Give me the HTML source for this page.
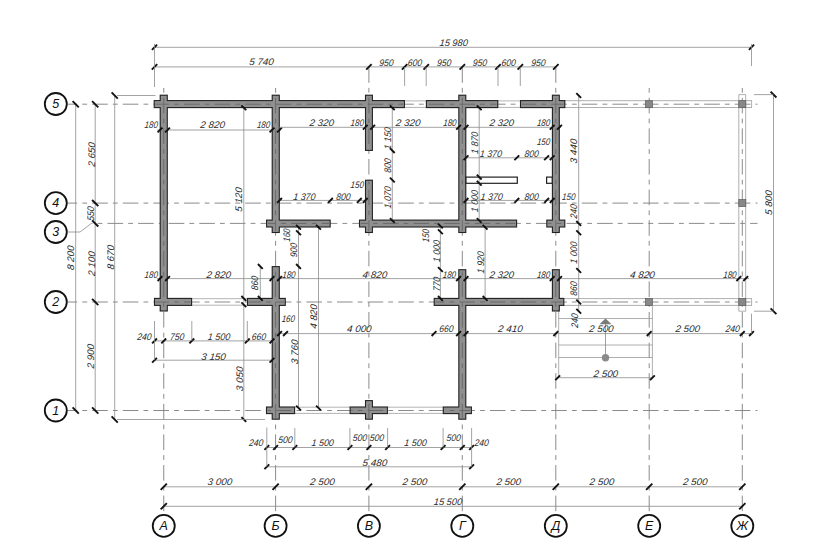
<!DOCTYPE html>
<html><head><meta charset="utf-8"><title>Floor plan</title>
<style>html,body{margin:0;padding:0;background:#fff;width:825px;height:550px;overflow:hidden;}
svg{display:block;font-family:"Liberation Sans", sans-serif;}</style></head>
<body>
<svg width="825" height="550" viewBox="0 0 825 550">
<rect width="825" height="550" fill="#fff"/>
<g>
<g><line x1="67.50" y1="104.20" x2="757.50" y2="104.20" stroke="#7e7e7e" stroke-width="0.9" stroke-dasharray="15.6,5.1,4.8,5.1" stroke-dashoffset="5.90"/><line x1="67.50" y1="203.10" x2="757.50" y2="203.10" stroke="#7e7e7e" stroke-width="0.9" stroke-dasharray="15.6,5.1,4.8,5.1" stroke-dashoffset="5.90"/><line x1="67.50" y1="302.00" x2="757.50" y2="302.00" stroke="#7e7e7e" stroke-width="0.9" stroke-dasharray="15.6,5.1,4.8,5.1" stroke-dashoffset="5.90"/><line x1="67.50" y1="410.50" x2="757.50" y2="410.50" stroke="#7e7e7e" stroke-width="0.9" stroke-dasharray="15.6,5.1,4.8,5.1" stroke-dashoffset="5.90"/><line x1="91.30" y1="223.40" x2="757.50" y2="223.40" stroke="#7e7e7e" stroke-width="0.9" stroke-dasharray="15.6,5.1,4.8,5.1" stroke-dashoffset="14.40"/><line x1="163.75" y1="88.00" x2="163.75" y2="515.00" stroke="#7e7e7e" stroke-width="0.9" stroke-dasharray="15.6,5.1,4.8,5.1" stroke-dashoffset="20.80"/><line x1="275.60" y1="88.00" x2="275.60" y2="515.00" stroke="#7e7e7e" stroke-width="0.9" stroke-dasharray="15.6,5.1,4.8,5.1" stroke-dashoffset="20.80"/><line x1="649.20" y1="88.00" x2="649.20" y2="515.00" stroke="#7e7e7e" stroke-width="0.9" stroke-dasharray="15.6,5.1,4.8,5.1" stroke-dashoffset="20.80"/><line x1="742.30" y1="88.00" x2="742.30" y2="515.00" stroke="#7e7e7e" stroke-width="0.9" stroke-dasharray="15.6,5.1,4.8,5.1" stroke-dashoffset="20.80"/><line x1="368.90" y1="67.00" x2="368.90" y2="515.00" stroke="#7e7e7e" stroke-width="0.9" stroke-dasharray="15.6,5.1,4.8,5.1" stroke-dashoffset="30.40"/><line x1="462.30" y1="67.00" x2="462.30" y2="515.00" stroke="#7e7e7e" stroke-width="0.9" stroke-dasharray="15.6,5.1,4.8,5.1" stroke-dashoffset="30.40"/><line x1="555.80" y1="67.00" x2="555.80" y2="515.00" stroke="#7e7e7e" stroke-width="0.9" stroke-dasharray="15.6,5.1,4.8,5.1" stroke-dashoffset="30.40"/></g>
<g><line x1="404.6" y1="100.9" x2="426.2" y2="100.9" stroke="#a0a0a0" stroke-width="0.8"/><line x1="404.6" y1="107.4" x2="426.2" y2="107.4" stroke="#a0a0a0" stroke-width="0.8"/><line x1="498.0" y1="100.9" x2="520.3" y2="100.9" stroke="#a0a0a0" stroke-width="0.8"/><line x1="498.0" y1="107.4" x2="520.3" y2="107.4" stroke="#a0a0a0" stroke-width="0.8"/><line x1="191.8" y1="298.7" x2="247.3" y2="298.7" stroke="#a0a0a0" stroke-width="0.8"/><line x1="191.8" y1="305.2" x2="247.3" y2="305.2" stroke="#a0a0a0" stroke-width="0.8"/><line x1="294.8" y1="407.2" x2="349.9" y2="407.2" stroke="#a0a0a0" stroke-width="0.8"/><line x1="294.8" y1="413.4" x2="349.9" y2="413.4" stroke="#a0a0a0" stroke-width="0.8"/><line x1="387.6" y1="407.2" x2="443.1" y2="407.2" stroke="#a0a0a0" stroke-width="0.8"/><line x1="387.6" y1="413.4" x2="443.1" y2="413.4" stroke="#a0a0a0" stroke-width="0.8"/><line x1="565" y1="100.7" x2="752" y2="100.7" stroke="#9a9a9a" stroke-width="0.8"/><line x1="565" y1="107.5" x2="752" y2="107.5" stroke="#9a9a9a" stroke-width="0.8"/><line x1="564" y1="298.6" x2="752" y2="298.6" stroke="#9a9a9a" stroke-width="0.8"/><line x1="564" y1="305.4" x2="752" y2="305.4" stroke="#9a9a9a" stroke-width="0.8"/><line x1="751.6" y1="100.7" x2="751.6" y2="107.5" stroke="#9a9a9a" stroke-width="0.8"/><line x1="751.6" y1="298.6" x2="751.6" y2="305.4" stroke="#9a9a9a" stroke-width="0.8"/><line x1="738.8" y1="94.6" x2="738.8" y2="311.2" stroke="#9a9a9a" stroke-width="0.8"/><line x1="745.7" y1="94.6" x2="745.7" y2="311.2" stroke="#9a9a9a" stroke-width="0.8"/><line x1="738.8" y1="94.6" x2="745.7" y2="94.6" stroke="#9a9a9a" stroke-width="0.8"/><line x1="738.8" y1="311.2" x2="745.7" y2="311.2" stroke="#9a9a9a" stroke-width="0.8"/><rect x="645.5" y="100.7" width="7" height="7" fill="#888" stroke="#5a5a5a" stroke-width="0.7"/><rect x="738.8" y="100.7" width="7" height="7" fill="#888" stroke="#5a5a5a" stroke-width="0.7"/><rect x="738.8" y="199.6" width="7" height="7" fill="#888" stroke="#5a5a5a" stroke-width="0.7"/><rect x="645.5" y="298.6" width="7" height="7" fill="#888" stroke="#5a5a5a" stroke-width="0.7"/><rect x="738.8" y="298.6" width="7" height="7" fill="#888" stroke="#5a5a5a" stroke-width="0.7"/><line x1="558.7" y1="318.5" x2="652.4" y2="318.5" stroke="#9a9a9a" stroke-width="0.8"/><line x1="558.7" y1="345.0" x2="652.4" y2="345.0" stroke="#9a9a9a" stroke-width="0.8"/><line x1="558.7" y1="357.5" x2="652.4" y2="357.5" stroke="#9a9a9a" stroke-width="0.8"/><line x1="558.7" y1="305.6" x2="558.7" y2="377.7" stroke="#9a9a9a" stroke-width="0.8"/><line x1="652.4" y1="305.6" x2="652.4" y2="377.7" stroke="#9a9a9a" stroke-width="0.8"/><polygon points="605.5,318.6 599.5,324.3 611.5,324.3" fill="#7a7a7a"/><line x1="605.5" y1="324" x2="605.5" y2="355" stroke="#888" stroke-width="0.8"/><circle cx="605.5" cy="357.7" r="3.7" fill="#8a8a8a"/></g>
<g><rect x="154.75" y="101.15" width="249.10" height="5.90" fill="none" stroke="#222" stroke-width="2.2"/><rect x="426.95" y="101.15" width="70.30" height="5.90" fill="none" stroke="#222" stroke-width="2.2"/><rect x="521.05" y="101.15" width="43.20" height="5.90" fill="none" stroke="#222" stroke-width="2.2"/><rect x="267.15" y="220.65" width="62.50" height="5.80" fill="none" stroke="#222" stroke-width="2.2"/><rect x="360.05" y="220.65" width="156.00" height="5.80" fill="none" stroke="#222" stroke-width="2.2"/><rect x="547.35" y="220.65" width="16.90" height="5.80" fill="none" stroke="#222" stroke-width="2.2"/><rect x="155.05" y="298.95" width="36.00" height="5.90" fill="none" stroke="#222" stroke-width="2.2"/><rect x="248.05" y="298.95" width="36.70" height="5.90" fill="none" stroke="#222" stroke-width="2.2"/><rect x="434.75" y="298.95" width="128.50" height="5.90" fill="none" stroke="#222" stroke-width="2.2"/><rect x="267.05" y="407.55" width="27.00" height="5.50" fill="none" stroke="#222" stroke-width="2.2"/><rect x="350.65" y="407.55" width="36.20" height="5.50" fill="none" stroke="#222" stroke-width="2.2"/><rect x="443.85" y="407.55" width="27.00" height="5.50" fill="none" stroke="#222" stroke-width="2.2"/><rect x="160.75" y="95.75" width="6.00" height="214.70" fill="none" stroke="#222" stroke-width="2.2"/><rect x="272.75" y="95.75" width="6.00" height="136.20" fill="none" stroke="#222" stroke-width="2.2"/><rect x="272.75" y="267.15" width="6.00" height="151.50" fill="none" stroke="#222" stroke-width="2.2"/><rect x="366.05" y="95.75" width="5.80" height="54.10" fill="none" stroke="#222" stroke-width="2.2"/><rect x="366.05" y="180.75" width="5.80" height="51.20" fill="none" stroke="#222" stroke-width="2.2"/><rect x="366.05" y="401.15" width="5.80" height="17.50" fill="none" stroke="#222" stroke-width="2.2"/><rect x="459.35" y="95.75" width="5.90" height="136.20" fill="none" stroke="#222" stroke-width="2.2"/><rect x="459.35" y="270.25" width="5.90" height="148.40" fill="none" stroke="#222" stroke-width="2.2"/><rect x="552.95" y="95.75" width="5.80" height="136.20" fill="none" stroke="#222" stroke-width="2.2"/><rect x="552.95" y="270.25" width="5.80" height="40.20" fill="none" stroke="#222" stroke-width="2.2"/><rect x="154.75" y="101.15" width="249.10" height="5.90" fill="#909090"/><rect x="426.95" y="101.15" width="70.30" height="5.90" fill="#909090"/><rect x="521.05" y="101.15" width="43.20" height="5.90" fill="#909090"/><rect x="267.15" y="220.65" width="62.50" height="5.80" fill="#909090"/><rect x="360.05" y="220.65" width="156.00" height="5.80" fill="#909090"/><rect x="547.35" y="220.65" width="16.90" height="5.80" fill="#909090"/><rect x="155.05" y="298.95" width="36.00" height="5.90" fill="#909090"/><rect x="248.05" y="298.95" width="36.70" height="5.90" fill="#909090"/><rect x="434.75" y="298.95" width="128.50" height="5.90" fill="#909090"/><rect x="267.05" y="407.55" width="27.00" height="5.50" fill="#909090"/><rect x="350.65" y="407.55" width="36.20" height="5.50" fill="#909090"/><rect x="443.85" y="407.55" width="27.00" height="5.50" fill="#909090"/><rect x="160.75" y="95.75" width="6.00" height="214.70" fill="#909090"/><rect x="272.75" y="95.75" width="6.00" height="136.20" fill="#909090"/><rect x="272.75" y="267.15" width="6.00" height="151.50" fill="#909090"/><rect x="366.05" y="95.75" width="5.80" height="54.10" fill="#909090"/><rect x="366.05" y="180.75" width="5.80" height="51.20" fill="#909090"/><rect x="366.05" y="401.15" width="5.80" height="17.50" fill="#909090"/><rect x="459.35" y="95.75" width="5.90" height="136.20" fill="#909090"/><rect x="459.35" y="270.25" width="5.90" height="148.40" fill="#909090"/><rect x="552.95" y="95.75" width="5.80" height="136.20" fill="#909090"/><rect x="552.95" y="270.25" width="5.80" height="40.20" fill="#909090"/><rect x="466.0" y="177.1" width="51.30" height="6.20" fill="#fff" stroke="#222" stroke-width="1.2"/><rect x="546.6" y="177.1" width="5.60" height="6.20" fill="#fff" stroke="#222" stroke-width="1.2"/></g>
<g><line x1="155.50" y1="104.20" x2="403.10" y2="104.20" stroke="#6a6a6a" stroke-width="1" stroke-dasharray="15.6,5.1,4.8,5.1" stroke-dashoffset="2.10"/><line x1="427.70" y1="104.20" x2="496.50" y2="104.20" stroke="#6a6a6a" stroke-width="1" stroke-dasharray="15.6,5.1,4.8,5.1" stroke-dashoffset="29.50"/><line x1="521.80" y1="104.20" x2="563.50" y2="104.20" stroke="#6a6a6a" stroke-width="1" stroke-dasharray="15.6,5.1,4.8,5.1" stroke-dashoffset="1.20"/><line x1="267.90" y1="223.40" x2="328.90" y2="223.40" stroke="#6a6a6a" stroke-width="1" stroke-dasharray="15.6,5.1,4.8,5.1" stroke-dashoffset="7.40"/><line x1="360.80" y1="223.40" x2="515.30" y2="223.40" stroke="#6a6a6a" stroke-width="1" stroke-dasharray="15.6,5.1,4.8,5.1" stroke-dashoffset="8.50"/><line x1="548.10" y1="223.40" x2="563.50" y2="223.40" stroke="#6a6a6a" stroke-width="1" stroke-dasharray="15.6,5.1,4.8,5.1" stroke-dashoffset="12.20"/><line x1="155.80" y1="302.00" x2="190.30" y2="302.00" stroke="#6a6a6a" stroke-width="1" stroke-dasharray="15.6,5.1,4.8,5.1" stroke-dashoffset="2.40"/><line x1="248.80" y1="302.00" x2="284.00" y2="302.00" stroke="#6a6a6a" stroke-width="1" stroke-dasharray="15.6,5.1,4.8,5.1" stroke-dashoffset="3.60"/><line x1="435.50" y1="302.00" x2="562.50" y2="302.00" stroke="#6a6a6a" stroke-width="1" stroke-dasharray="15.6,5.1,4.8,5.1" stroke-dashoffset="6.70"/><line x1="267.80" y1="410.50" x2="293.30" y2="410.50" stroke="#6a6a6a" stroke-width="1" stroke-dasharray="15.6,5.1,4.8,5.1" stroke-dashoffset="22.60"/><line x1="351.40" y1="410.50" x2="386.10" y2="410.50" stroke="#6a6a6a" stroke-width="1" stroke-dasharray="15.6,5.1,4.8,5.1" stroke-dashoffset="14.40"/><line x1="444.60" y1="410.50" x2="470.10" y2="410.50" stroke="#6a6a6a" stroke-width="1" stroke-dasharray="15.6,5.1,4.8,5.1" stroke-dashoffset="15.80"/><line x1="163.75" y1="96.50" x2="163.75" y2="309.70" stroke="#6a6a6a" stroke-width="1" stroke-dasharray="15.6,5.1,4.8,5.1" stroke-dashoffset="29.30"/><line x1="275.60" y1="96.50" x2="275.60" y2="231.20" stroke="#6a6a6a" stroke-width="1" stroke-dasharray="15.6,5.1,4.8,5.1" stroke-dashoffset="29.30"/><line x1="275.60" y1="267.90" x2="275.60" y2="417.90" stroke="#6a6a6a" stroke-width="1" stroke-dasharray="15.6,5.1,4.8,5.1" stroke-dashoffset="17.10"/><line x1="368.90" y1="96.50" x2="368.90" y2="149.10" stroke="#6a6a6a" stroke-width="1" stroke-dasharray="15.6,5.1,4.8,5.1" stroke-dashoffset="29.30"/><line x1="368.90" y1="181.50" x2="368.90" y2="231.20" stroke="#6a6a6a" stroke-width="1" stroke-dasharray="15.6,5.1,4.8,5.1" stroke-dashoffset="22.50"/><line x1="368.90" y1="401.90" x2="368.90" y2="417.90" stroke="#6a6a6a" stroke-width="1" stroke-dasharray="15.6,5.1,4.8,5.1" stroke-dashoffset="28.70"/><line x1="462.30" y1="96.50" x2="462.30" y2="231.20" stroke="#6a6a6a" stroke-width="1" stroke-dasharray="15.6,5.1,4.8,5.1" stroke-dashoffset="29.30"/><line x1="462.30" y1="271.00" x2="462.30" y2="417.90" stroke="#6a6a6a" stroke-width="1" stroke-dasharray="15.6,5.1,4.8,5.1" stroke-dashoffset="20.20"/><line x1="555.80" y1="96.50" x2="555.80" y2="231.20" stroke="#6a6a6a" stroke-width="1" stroke-dasharray="15.6,5.1,4.8,5.1" stroke-dashoffset="29.30"/><line x1="555.80" y1="271.00" x2="555.80" y2="309.70" stroke="#6a6a6a" stroke-width="1" stroke-dasharray="15.6,5.1,4.8,5.1" stroke-dashoffset="20.20"/></g>
<g stroke-linecap="butt"><line x1="154.50" y1="47.30" x2="751.50" y2="47.30" stroke="#8c8c8c" stroke-width="0.8" /><line x1="151.90" y1="49.90" x2="157.10" y2="44.70" stroke="#111" stroke-width="1.9" /><line x1="748.90" y1="49.90" x2="754.10" y2="44.70" stroke="#111" stroke-width="1.9" /><line x1="154.50" y1="66.90" x2="555.80" y2="66.90" stroke="#8c8c8c" stroke-width="0.8" /><line x1="151.80" y1="69.60" x2="157.20" y2="64.20" stroke="#111" stroke-width="1.9" /><line x1="366.20" y1="69.60" x2="371.60" y2="64.20" stroke="#111" stroke-width="1.9" /><line x1="401.90" y1="69.60" x2="407.30" y2="64.20" stroke="#111" stroke-width="1.9" /><line x1="423.50" y1="69.60" x2="428.90" y2="64.20" stroke="#111" stroke-width="1.9" /><line x1="459.60" y1="69.60" x2="465.00" y2="64.20" stroke="#111" stroke-width="1.9" /><line x1="495.30" y1="69.60" x2="500.70" y2="64.20" stroke="#111" stroke-width="1.9" /><line x1="517.60" y1="69.60" x2="523.00" y2="64.20" stroke="#111" stroke-width="1.9" /><line x1="553.10" y1="69.60" x2="558.50" y2="64.20" stroke="#111" stroke-width="1.9" /><line x1="157.00" y1="130.00" x2="281.00" y2="130.00" stroke="#8c8c8c" stroke-width="0.8" /><line x1="157.60" y1="132.40" x2="162.40" y2="127.60" stroke="#111" stroke-width="1.9" /><line x1="165.10" y1="132.40" x2="169.90" y2="127.60" stroke="#111" stroke-width="1.9" /><line x1="269.60" y1="132.40" x2="274.40" y2="127.60" stroke="#111" stroke-width="1.9" /><line x1="277.10" y1="132.40" x2="281.90" y2="127.60" stroke="#111" stroke-width="1.9" /><line x1="279.50" y1="127.30" x2="561.00" y2="127.30" stroke="#8c8c8c" stroke-width="0.8" /><line x1="362.90" y1="129.70" x2="367.70" y2="124.90" stroke="#111" stroke-width="1.9" /><line x1="370.20" y1="129.70" x2="375.00" y2="124.90" stroke="#111" stroke-width="1.9" /><line x1="456.20" y1="129.70" x2="461.00" y2="124.90" stroke="#111" stroke-width="1.9" /><line x1="463.60" y1="129.70" x2="468.40" y2="124.90" stroke="#111" stroke-width="1.9" /><line x1="549.80" y1="129.70" x2="554.60" y2="124.90" stroke="#111" stroke-width="1.9" /><line x1="557.10" y1="129.70" x2="561.90" y2="124.90" stroke="#111" stroke-width="1.9" /><line x1="466.00" y1="157.80" x2="553.00" y2="157.80" stroke="#8c8c8c" stroke-width="0.8" /><line x1="463.60" y1="160.20" x2="468.40" y2="155.40" stroke="#111" stroke-width="1.9" /><line x1="514.40" y1="160.20" x2="519.20" y2="155.40" stroke="#111" stroke-width="1.9" /><line x1="544.20" y1="160.20" x2="549.00" y2="155.40" stroke="#111" stroke-width="1.9" /><line x1="549.80" y1="160.20" x2="554.60" y2="155.40" stroke="#111" stroke-width="1.9" /><line x1="279.50" y1="200.40" x2="367.00" y2="200.40" stroke="#8c8c8c" stroke-width="0.8" /><line x1="277.10" y1="202.80" x2="281.90" y2="198.00" stroke="#111" stroke-width="1.9" /><line x1="328.00" y1="202.80" x2="332.80" y2="198.00" stroke="#111" stroke-width="1.9" /><line x1="356.90" y1="202.80" x2="361.70" y2="198.00" stroke="#111" stroke-width="1.9" /><line x1="362.90" y1="202.80" x2="367.70" y2="198.00" stroke="#111" stroke-width="1.9" /><line x1="466.00" y1="200.40" x2="553.00" y2="200.40" stroke="#8c8c8c" stroke-width="0.8" /><line x1="463.60" y1="202.80" x2="468.40" y2="198.00" stroke="#111" stroke-width="1.9" /><line x1="514.40" y1="202.80" x2="519.20" y2="198.00" stroke="#111" stroke-width="1.9" /><line x1="544.20" y1="202.80" x2="549.00" y2="198.00" stroke="#111" stroke-width="1.9" /><line x1="549.80" y1="202.80" x2="554.60" y2="198.00" stroke="#111" stroke-width="1.9" /><line x1="157.00" y1="278.60" x2="749.00" y2="278.60" stroke="#8c8c8c" stroke-width="0.8" /><line x1="157.60" y1="281.00" x2="162.40" y2="276.20" stroke="#111" stroke-width="1.9" /><line x1="165.10" y1="281.00" x2="169.90" y2="276.20" stroke="#111" stroke-width="1.9" /><line x1="269.60" y1="281.00" x2="274.40" y2="276.20" stroke="#111" stroke-width="1.9" /><line x1="277.10" y1="281.00" x2="281.90" y2="276.20" stroke="#111" stroke-width="1.9" /><line x1="456.20" y1="281.00" x2="461.00" y2="276.20" stroke="#111" stroke-width="1.9" /><line x1="463.60" y1="281.00" x2="468.40" y2="276.20" stroke="#111" stroke-width="1.9" /><line x1="549.80" y1="281.00" x2="554.60" y2="276.20" stroke="#111" stroke-width="1.9" /><line x1="557.10" y1="281.00" x2="561.90" y2="276.20" stroke="#111" stroke-width="1.9" /><line x1="736.40" y1="281.00" x2="741.20" y2="276.20" stroke="#111" stroke-width="1.9" /><line x1="743.30" y1="281.00" x2="748.10" y2="276.20" stroke="#111" stroke-width="1.9" /><line x1="276.00" y1="333.60" x2="753.00" y2="333.60" stroke="#8c8c8c" stroke-width="0.8" /><line x1="277.10" y1="336.00" x2="281.90" y2="331.20" stroke="#111" stroke-width="1.9" /><line x1="283.10" y1="336.00" x2="287.90" y2="331.20" stroke="#111" stroke-width="1.9" /><line x1="431.60" y1="336.00" x2="436.40" y2="331.20" stroke="#111" stroke-width="1.9" /><line x1="456.20" y1="336.00" x2="461.00" y2="331.20" stroke="#111" stroke-width="1.9" /><line x1="463.60" y1="336.00" x2="468.40" y2="331.20" stroke="#111" stroke-width="1.9" /><line x1="553.40" y1="336.00" x2="558.20" y2="331.20" stroke="#111" stroke-width="1.9" /><line x1="646.80" y1="336.00" x2="651.60" y2="331.20" stroke="#111" stroke-width="1.9" /><line x1="739.90" y1="336.00" x2="744.70" y2="331.20" stroke="#111" stroke-width="1.9" /><line x1="749.10" y1="336.00" x2="753.90" y2="331.20" stroke="#111" stroke-width="1.9" /><line x1="154.50" y1="340.90" x2="273.00" y2="340.90" stroke="#8c8c8c" stroke-width="0.8" /><line x1="152.10" y1="343.30" x2="156.90" y2="338.50" stroke="#111" stroke-width="1.9" /><line x1="161.35" y1="343.30" x2="166.15" y2="338.50" stroke="#111" stroke-width="1.9" /><line x1="189.40" y1="343.30" x2="194.20" y2="338.50" stroke="#111" stroke-width="1.9" /><line x1="244.90" y1="343.30" x2="249.70" y2="338.50" stroke="#111" stroke-width="1.9" /><line x1="269.60" y1="343.30" x2="274.40" y2="338.50" stroke="#111" stroke-width="1.9" /><line x1="154.50" y1="360.20" x2="273.00" y2="360.20" stroke="#8c8c8c" stroke-width="0.8" /><line x1="152.10" y1="362.60" x2="156.90" y2="357.80" stroke="#111" stroke-width="1.9" /><line x1="269.60" y1="362.60" x2="274.40" y2="357.80" stroke="#111" stroke-width="1.9" /><line x1="557.70" y1="377.70" x2="652.40" y2="377.70" stroke="#8c8c8c" stroke-width="0.8" /><line x1="555.30" y1="380.10" x2="560.10" y2="375.30" stroke="#111" stroke-width="1.9" /><line x1="650.00" y1="380.10" x2="654.80" y2="375.30" stroke="#111" stroke-width="1.9" /><line x1="266.80" y1="447.50" x2="471.60" y2="447.50" stroke="#8c8c8c" stroke-width="0.8" /><line x1="264.40" y1="449.90" x2="269.20" y2="445.10" stroke="#111" stroke-width="1.9" /><line x1="273.20" y1="449.90" x2="278.00" y2="445.10" stroke="#111" stroke-width="1.9" /><line x1="292.40" y1="449.90" x2="297.20" y2="445.10" stroke="#111" stroke-width="1.9" /><line x1="347.50" y1="449.90" x2="352.30" y2="445.10" stroke="#111" stroke-width="1.9" /><line x1="366.50" y1="449.90" x2="371.30" y2="445.10" stroke="#111" stroke-width="1.9" /><line x1="385.20" y1="449.90" x2="390.00" y2="445.10" stroke="#111" stroke-width="1.9" /><line x1="440.70" y1="449.90" x2="445.50" y2="445.10" stroke="#111" stroke-width="1.9" /><line x1="459.90" y1="449.90" x2="464.70" y2="445.10" stroke="#111" stroke-width="1.9" /><line x1="469.20" y1="449.90" x2="474.00" y2="445.10" stroke="#111" stroke-width="1.9" /><line x1="266.80" y1="466.80" x2="471.60" y2="466.80" stroke="#8c8c8c" stroke-width="0.8" /><line x1="264.40" y1="469.20" x2="269.20" y2="464.40" stroke="#111" stroke-width="1.9" /><line x1="469.20" y1="469.20" x2="474.00" y2="464.40" stroke="#111" stroke-width="1.9" /><line x1="163.75" y1="486.80" x2="742.30" y2="486.80" stroke="#8c8c8c" stroke-width="0.8" /><line x1="160.65" y1="489.90" x2="166.85" y2="483.70" stroke="#111" stroke-width="1.9" /><line x1="272.50" y1="489.90" x2="278.70" y2="483.70" stroke="#111" stroke-width="1.9" /><line x1="365.80" y1="489.90" x2="372.00" y2="483.70" stroke="#111" stroke-width="1.9" /><line x1="459.20" y1="489.90" x2="465.40" y2="483.70" stroke="#111" stroke-width="1.9" /><line x1="552.70" y1="489.90" x2="558.90" y2="483.70" stroke="#111" stroke-width="1.9" /><line x1="646.10" y1="489.90" x2="652.30" y2="483.70" stroke="#111" stroke-width="1.9" /><line x1="739.20" y1="489.90" x2="745.40" y2="483.70" stroke="#111" stroke-width="1.9" /><line x1="163.75" y1="506.30" x2="742.30" y2="506.30" stroke="#8c8c8c" stroke-width="0.8" /><line x1="160.65" y1="509.40" x2="166.85" y2="503.20" stroke="#111" stroke-width="1.9" /><line x1="739.20" y1="509.40" x2="745.40" y2="503.20" stroke="#111" stroke-width="1.9" /><line x1="75.70" y1="104.20" x2="75.70" y2="410.50" stroke="#8c8c8c" stroke-width="0.8" /><line x1="72.60" y1="101.10" x2="78.80" y2="107.30" stroke="#111" stroke-width="1.9" /><line x1="72.60" y1="407.40" x2="78.80" y2="413.60" stroke="#111" stroke-width="1.9" /><line x1="95.20" y1="104.20" x2="95.20" y2="410.50" stroke="#8c8c8c" stroke-width="0.8" /><line x1="92.10" y1="101.10" x2="98.30" y2="107.30" stroke="#111" stroke-width="1.9" /><line x1="92.10" y1="200.00" x2="98.30" y2="206.20" stroke="#111" stroke-width="1.9" /><line x1="92.10" y1="220.30" x2="98.30" y2="226.50" stroke="#111" stroke-width="1.9" /><line x1="92.10" y1="298.90" x2="98.30" y2="305.10" stroke="#111" stroke-width="1.9" /><line x1="92.10" y1="407.40" x2="98.30" y2="413.60" stroke="#111" stroke-width="1.9" /><line x1="114.70" y1="95.50" x2="114.70" y2="419.50" stroke="#8c8c8c" stroke-width="0.8" /><line x1="111.60" y1="92.40" x2="117.80" y2="98.60" stroke="#111" stroke-width="1.9" /><line x1="111.60" y1="416.40" x2="117.80" y2="422.60" stroke="#111" stroke-width="1.9" /><line x1="243.80" y1="107.80" x2="243.80" y2="419.50" stroke="#8c8c8c" stroke-width="0.8" /><line x1="241.40" y1="105.40" x2="246.20" y2="110.20" stroke="#111" stroke-width="1.9" /><line x1="241.40" y1="296.00" x2="246.20" y2="300.80" stroke="#111" stroke-width="1.9" /><line x1="241.40" y1="302.40" x2="246.20" y2="307.20" stroke="#111" stroke-width="1.9" /><line x1="241.40" y1="417.10" x2="246.20" y2="421.90" stroke="#111" stroke-width="1.9" /><line x1="260.30" y1="266.40" x2="260.30" y2="298.40" stroke="#8c8c8c" stroke-width="0.8" /><line x1="257.90" y1="264.00" x2="262.70" y2="268.80" stroke="#111" stroke-width="1.9" /><line x1="257.90" y1="296.00" x2="262.70" y2="300.80" stroke="#111" stroke-width="1.9" /><line x1="298.50" y1="227.30" x2="298.50" y2="408.00" stroke="#8c8c8c" stroke-width="0.8" /><line x1="296.10" y1="224.90" x2="300.90" y2="229.70" stroke="#111" stroke-width="1.9" /><line x1="296.10" y1="230.30" x2="300.90" y2="235.10" stroke="#111" stroke-width="1.9" /><line x1="296.10" y1="264.00" x2="300.90" y2="268.80" stroke="#111" stroke-width="1.9" /><line x1="296.10" y1="405.60" x2="300.90" y2="410.40" stroke="#111" stroke-width="1.9" /><line x1="318.50" y1="227.30" x2="318.50" y2="408.00" stroke="#8c8c8c" stroke-width="0.8" /><line x1="316.10" y1="224.90" x2="320.90" y2="229.70" stroke="#111" stroke-width="1.9" /><line x1="316.10" y1="405.60" x2="320.90" y2="410.40" stroke="#111" stroke-width="1.9" /><line x1="392.30" y1="107.80" x2="392.30" y2="221.00" stroke="#8c8c8c" stroke-width="0.8" /><line x1="389.90" y1="105.40" x2="394.70" y2="110.20" stroke="#111" stroke-width="1.9" /><line x1="389.90" y1="148.20" x2="394.70" y2="153.00" stroke="#111" stroke-width="1.9" /><line x1="389.90" y1="177.60" x2="394.70" y2="182.40" stroke="#111" stroke-width="1.9" /><line x1="389.90" y1="218.10" x2="394.70" y2="222.90" stroke="#111" stroke-width="1.9" /><line x1="440.40" y1="227.30" x2="440.40" y2="298.40" stroke="#8c8c8c" stroke-width="0.8" /><line x1="438.00" y1="223.60" x2="442.80" y2="228.40" stroke="#111" stroke-width="1.9" /><line x1="438.00" y1="229.40" x2="442.80" y2="234.20" stroke="#111" stroke-width="1.9" /><line x1="438.00" y1="267.10" x2="442.80" y2="271.90" stroke="#111" stroke-width="1.9" /><line x1="438.00" y1="296.00" x2="442.80" y2="300.80" stroke="#111" stroke-width="1.9" /><line x1="479.20" y1="107.80" x2="479.20" y2="220.50" stroke="#8c8c8c" stroke-width="0.8" /><line x1="476.80" y1="105.40" x2="481.60" y2="110.20" stroke="#111" stroke-width="1.9" /><line x1="476.80" y1="174.70" x2="481.60" y2="179.50" stroke="#111" stroke-width="1.9" /><line x1="476.80" y1="180.90" x2="481.60" y2="185.70" stroke="#111" stroke-width="1.9" /><line x1="476.80" y1="218.10" x2="481.60" y2="222.90" stroke="#111" stroke-width="1.9" /><line x1="485.10" y1="227.30" x2="485.10" y2="298.40" stroke="#8c8c8c" stroke-width="0.8" /><line x1="482.70" y1="224.90" x2="487.50" y2="229.70" stroke="#111" stroke-width="1.9" /><line x1="482.70" y1="296.00" x2="487.50" y2="300.80" stroke="#111" stroke-width="1.9" /><line x1="578.70" y1="95.50" x2="578.70" y2="311.20" stroke="#8c8c8c" stroke-width="0.8" /><line x1="576.30" y1="93.10" x2="581.10" y2="97.90" stroke="#111" stroke-width="1.9" /><line x1="576.30" y1="221.00" x2="581.10" y2="225.80" stroke="#111" stroke-width="1.9" /><line x1="576.30" y1="230.30" x2="581.10" y2="235.10" stroke="#111" stroke-width="1.9" /><line x1="576.30" y1="268.10" x2="581.10" y2="272.90" stroke="#111" stroke-width="1.9" /><line x1="576.30" y1="299.60" x2="581.10" y2="304.40" stroke="#111" stroke-width="1.9" /><line x1="576.30" y1="308.80" x2="581.10" y2="313.60" stroke="#111" stroke-width="1.9" /><line x1="773.50" y1="94.60" x2="773.50" y2="311.20" stroke="#8c8c8c" stroke-width="0.8" /><line x1="770.60" y1="91.70" x2="776.40" y2="97.50" stroke="#111" stroke-width="1.9" /><line x1="770.60" y1="308.30" x2="776.40" y2="314.10" stroke="#111" stroke-width="1.9" /><line x1="154.50" y1="44.00" x2="154.50" y2="87.00" stroke="#8c8c8c" stroke-width="0.8" /><line x1="751.50" y1="44.00" x2="751.50" y2="66.00" stroke="#8c8c8c" stroke-width="0.8" /><line x1="404.60" y1="67.00" x2="404.60" y2="86.00" stroke="#8c8c8c" stroke-width="0.8" /><line x1="426.20" y1="67.00" x2="426.20" y2="86.00" stroke="#8c8c8c" stroke-width="0.8" /><line x1="498.00" y1="67.00" x2="498.00" y2="86.00" stroke="#8c8c8c" stroke-width="0.8" /><line x1="520.30" y1="67.00" x2="520.30" y2="86.00" stroke="#8c8c8c" stroke-width="0.8" /><line x1="117.00" y1="95.50" x2="155.50" y2="95.50" stroke="#8c8c8c" stroke-width="0.8" /><line x1="117.00" y1="419.50" x2="265.00" y2="419.50" stroke="#8c8c8c" stroke-width="0.8" /><line x1="754.00" y1="94.60" x2="773.50" y2="94.60" stroke="#8c8c8c" stroke-width="0.8" /><line x1="754.00" y1="311.20" x2="773.50" y2="311.20" stroke="#8c8c8c" stroke-width="0.8" /><line x1="751.50" y1="313.70" x2="751.50" y2="333.60" stroke="#8c8c8c" stroke-width="0.8" /><line x1="266.80" y1="427.50" x2="266.80" y2="466.80" stroke="#8c8c8c" stroke-width="0.8" /><line x1="294.80" y1="428.00" x2="294.80" y2="447.50" stroke="#8c8c8c" stroke-width="0.8" /><line x1="349.90" y1="428.00" x2="349.90" y2="447.50" stroke="#8c8c8c" stroke-width="0.8" /><line x1="387.60" y1="428.00" x2="387.60" y2="447.50" stroke="#8c8c8c" stroke-width="0.8" /><line x1="443.10" y1="428.00" x2="443.10" y2="447.50" stroke="#8c8c8c" stroke-width="0.8" /><line x1="471.60" y1="428.00" x2="471.60" y2="466.80" stroke="#8c8c8c" stroke-width="0.8" /><line x1="154.50" y1="321.00" x2="154.50" y2="360.20" stroke="#8c8c8c" stroke-width="0.8" /><line x1="191.80" y1="321.00" x2="191.80" y2="340.90" stroke="#8c8c8c" stroke-width="0.8" /><line x1="247.30" y1="321.00" x2="247.30" y2="340.90" stroke="#8c8c8c" stroke-width="0.8" /><polyline points="68,232 80,232 91.3,223.4" fill="none" stroke="#8c8c8c" stroke-width="0.8"/></g>
<g font-family="Liberation Sans, sans-serif" font-style="italic" font-size="9.6" fill="#2a2a2a" text-anchor="middle"><text transform="translate(453.75 46.16) skewX(-6)" x="-0.36" y="0" textLength="28.30" lengthAdjust="spacingAndGlyphs">15 980</text><text transform="translate(261.60 65.26) skewX(-6)" x="-0.36" y="0" textLength="24.60" lengthAdjust="spacingAndGlyphs">5 740</text><text transform="translate(386.50 65.76) skewX(-6)" x="-0.36" y="0" textLength="14.25" lengthAdjust="spacingAndGlyphs">950</text><text transform="translate(415.00 65.76) skewX(-6)" x="-0.36" y="0" textLength="14.25" lengthAdjust="spacingAndGlyphs">600</text><text transform="translate(444.30 65.76) skewX(-6)" x="-0.36" y="0" textLength="14.25" lengthAdjust="spacingAndGlyphs">950</text><text transform="translate(480.00 65.76) skewX(-6)" x="-0.36" y="0" textLength="14.25" lengthAdjust="spacingAndGlyphs">950</text><text transform="translate(508.80 65.76) skewX(-6)" x="-0.36" y="0" textLength="14.25" lengthAdjust="spacingAndGlyphs">600</text><text transform="translate(538.40 65.76) skewX(-6)" x="-0.36" y="0" textLength="14.25" lengthAdjust="spacingAndGlyphs">950</text><text transform="translate(151.30 128.46) skewX(-6)" x="-0.36" y="0" textLength="13.20" lengthAdjust="spacingAndGlyphs">180</text><text transform="translate(212.70 128.46) skewX(-6)" x="-0.36" y="0" textLength="24.60" lengthAdjust="spacingAndGlyphs">2 820</text><text transform="translate(263.60 128.46) skewX(-6)" x="-0.36" y="0" textLength="13.20" lengthAdjust="spacingAndGlyphs">180</text><text transform="translate(321.80 125.76) skewX(-6)" x="-0.36" y="0" textLength="24.60" lengthAdjust="spacingAndGlyphs">2 320</text><text transform="translate(357.30 125.76) skewX(-6)" x="-0.36" y="0" textLength="13.20" lengthAdjust="spacingAndGlyphs">180</text><text transform="translate(408.20 125.76) skewX(-6)" x="-0.36" y="0" textLength="24.60" lengthAdjust="spacingAndGlyphs">2 320</text><text transform="translate(450.00 125.76) skewX(-6)" x="-0.36" y="0" textLength="13.20" lengthAdjust="spacingAndGlyphs">180</text><text transform="translate(501.80 125.76) skewX(-6)" x="-0.36" y="0" textLength="24.60" lengthAdjust="spacingAndGlyphs">2 320</text><text transform="translate(543.60 125.76) skewX(-6)" x="-0.36" y="0" textLength="13.20" lengthAdjust="spacingAndGlyphs">180</text><text transform="translate(543.60 145.26) skewX(-6)" x="-0.36" y="0" textLength="13.20" lengthAdjust="spacingAndGlyphs">150</text><text transform="translate(491.00 156.66) skewX(-6)" x="-0.36" y="0" textLength="22.25" lengthAdjust="spacingAndGlyphs">1 370</text><text transform="translate(531.80 156.66) skewX(-6)" x="-0.36" y="0" textLength="14.25" lengthAdjust="spacingAndGlyphs">800</text><text transform="translate(304.50 199.86) skewX(-6)" x="-0.36" y="0" textLength="22.25" lengthAdjust="spacingAndGlyphs">1 370</text><text transform="translate(343.60 199.86) skewX(-6)" x="-0.36" y="0" textLength="14.25" lengthAdjust="spacingAndGlyphs">800</text><text transform="translate(357.30 188.46) skewX(-6)" x="-0.36" y="0" textLength="13.20" lengthAdjust="spacingAndGlyphs">150</text><text transform="translate(491.80 199.86) skewX(-6)" x="-0.36" y="0" textLength="22.25" lengthAdjust="spacingAndGlyphs">1 370</text><text transform="translate(531.80 199.86) skewX(-6)" x="-0.36" y="0" textLength="14.25" lengthAdjust="spacingAndGlyphs">800</text><text transform="translate(568.80 199.76) skewX(-6)" x="-0.36" y="0" textLength="13.20" lengthAdjust="spacingAndGlyphs">150</text><text transform="translate(151.30 277.96) skewX(-6)" x="-0.36" y="0" textLength="13.20" lengthAdjust="spacingAndGlyphs">180</text><text transform="translate(218.80 277.96) skewX(-6)" x="-0.36" y="0" textLength="24.60" lengthAdjust="spacingAndGlyphs">2 820</text><text transform="translate(289.00 277.96) skewX(-6)" x="-0.36" y="0" textLength="13.20" lengthAdjust="spacingAndGlyphs">180</text><text transform="translate(375.00 277.96) skewX(-6)" x="-0.36" y="0" textLength="24.60" lengthAdjust="spacingAndGlyphs">4 820</text><text transform="translate(449.50 277.96) skewX(-6)" x="-0.36" y="0" textLength="13.20" lengthAdjust="spacingAndGlyphs">180</text><text transform="translate(501.80 277.96) skewX(-6)" x="-0.36" y="0" textLength="24.60" lengthAdjust="spacingAndGlyphs">2 320</text><text transform="translate(543.60 277.96) skewX(-6)" x="-0.36" y="0" textLength="13.20" lengthAdjust="spacingAndGlyphs">180</text><text transform="translate(642.50 277.96) skewX(-6)" x="-0.36" y="0" textLength="24.60" lengthAdjust="spacingAndGlyphs">4 820</text><text transform="translate(730.00 277.96) skewX(-6)" x="-0.36" y="0" textLength="13.20" lengthAdjust="spacingAndGlyphs">180</text><text transform="translate(288.40 322.26) skewX(-6)" x="-0.36" y="0" textLength="13.20" lengthAdjust="spacingAndGlyphs">160</text><text transform="translate(359.40 332.06) skewX(-6)" x="-0.36" y="0" textLength="24.60" lengthAdjust="spacingAndGlyphs">4 000</text><text transform="translate(446.40 332.06) skewX(-6)" x="-0.36" y="0" textLength="14.25" lengthAdjust="spacingAndGlyphs">660</text><text transform="translate(510.50 332.06) skewX(-6)" x="-0.36" y="0" textLength="24.60" lengthAdjust="spacingAndGlyphs">2 410</text><text transform="translate(601.40 332.06) skewX(-6)" x="-0.36" y="0" textLength="24.60" lengthAdjust="spacingAndGlyphs">2 500</text><text transform="translate(687.80 332.06) skewX(-6)" x="-0.36" y="0" textLength="24.60" lengthAdjust="spacingAndGlyphs">2 500</text><text transform="translate(732.80 332.06) skewX(-6)" x="-0.36" y="0" textLength="14.25" lengthAdjust="spacingAndGlyphs">240</text><text transform="translate(144.50 339.86) skewX(-6)" x="-0.36" y="0" textLength="14.25" lengthAdjust="spacingAndGlyphs">240</text><text transform="translate(177.30 339.86) skewX(-6)" x="-0.36" y="0" textLength="14.25" lengthAdjust="spacingAndGlyphs">750</text><text transform="translate(219.10 339.86) skewX(-6)" x="-0.36" y="0" textLength="22.25" lengthAdjust="spacingAndGlyphs">1 500</text><text transform="translate(259.10 339.86) skewX(-6)" x="-0.36" y="0" textLength="14.25" lengthAdjust="spacingAndGlyphs">660</text><text transform="translate(213.60 359.86) skewX(-6)" x="-0.36" y="0" textLength="24.60" lengthAdjust="spacingAndGlyphs">3 150</text><text transform="translate(605.90 376.96) skewX(-6)" x="-0.36" y="0" textLength="24.60" lengthAdjust="spacingAndGlyphs">2 500</text><text transform="translate(256.30 445.96) skewX(-6)" x="-0.36" y="0" textLength="14.25" lengthAdjust="spacingAndGlyphs">240</text><text transform="translate(285.50 442.86) skewX(-6)" x="-0.36" y="0" textLength="14.25" lengthAdjust="spacingAndGlyphs">500</text><text transform="translate(322.80 446.26) skewX(-6)" x="-0.36" y="0" textLength="22.25" lengthAdjust="spacingAndGlyphs">1 500</text><text transform="translate(360.10 441.26) skewX(-6)" x="-0.36" y="0" textLength="14.25" lengthAdjust="spacingAndGlyphs">500</text><text transform="translate(377.10 441.26) skewX(-6)" x="-0.36" y="0" textLength="14.25" lengthAdjust="spacingAndGlyphs">500</text><text transform="translate(415.60 446.26) skewX(-6)" x="-0.36" y="0" textLength="22.25" lengthAdjust="spacingAndGlyphs">1 500</text><text transform="translate(453.80 441.26) skewX(-6)" x="-0.36" y="0" textLength="14.25" lengthAdjust="spacingAndGlyphs">500</text><text transform="translate(481.80 445.76) skewX(-6)" x="-0.36" y="0" textLength="14.25" lengthAdjust="spacingAndGlyphs">240</text><text transform="translate(375.00 466.46) skewX(-6)" x="-0.36" y="0" textLength="24.60" lengthAdjust="spacingAndGlyphs">5 480</text><text transform="translate(220.00 485.26) skewX(-6)" x="-0.36" y="0" textLength="24.60" lengthAdjust="spacingAndGlyphs">3 000</text><text transform="translate(322.50 485.26) skewX(-6)" x="-0.36" y="0" textLength="24.60" lengthAdjust="spacingAndGlyphs">2 500</text><text transform="translate(415.00 485.26) skewX(-6)" x="-0.36" y="0" textLength="24.60" lengthAdjust="spacingAndGlyphs">2 500</text><text transform="translate(508.80 485.26) skewX(-6)" x="-0.36" y="0" textLength="24.60" lengthAdjust="spacingAndGlyphs">2 500</text><text transform="translate(602.00 485.26) skewX(-6)" x="-0.36" y="0" textLength="24.60" lengthAdjust="spacingAndGlyphs">2 500</text><text transform="translate(695.30 485.26) skewX(-6)" x="-0.36" y="0" textLength="24.60" lengthAdjust="spacingAndGlyphs">2 500</text><text transform="translate(448.00 505.46) skewX(-6)" x="-0.36" y="0" textLength="28.30" lengthAdjust="spacingAndGlyphs">15 500</text><text transform="translate(95.36 154.40) rotate(-90) skewX(-6)" x="-0.36" y="0" textLength="24.60" lengthAdjust="spacingAndGlyphs">2 650</text><text transform="translate(94.26 213.50) rotate(-90) skewX(-6)" x="-0.36" y="0" textLength="14.25" lengthAdjust="spacingAndGlyphs">550</text><text transform="translate(74.46 257.70) rotate(-90) skewX(-6)" x="-0.36" y="0" textLength="24.60" lengthAdjust="spacingAndGlyphs">8 200</text><text transform="translate(94.66 263.50) rotate(-90) skewX(-6)" x="-0.36" y="0" textLength="24.60" lengthAdjust="spacingAndGlyphs">2 100</text><text transform="translate(114.26 257.20) rotate(-90) skewX(-6)" x="-0.36" y="0" textLength="24.60" lengthAdjust="spacingAndGlyphs">8 670</text><text transform="translate(94.06 356.20) rotate(-90) skewX(-6)" x="-0.36" y="0" textLength="24.60" lengthAdjust="spacingAndGlyphs">2 900</text><text transform="translate(242.46 199.40) rotate(-90) skewX(-6)" x="-0.36" y="0" textLength="24.60" lengthAdjust="spacingAndGlyphs">5 120</text><text transform="translate(242.56 378.80) rotate(-90) skewX(-6)" x="-0.36" y="0" textLength="24.60" lengthAdjust="spacingAndGlyphs">3 050</text><text transform="translate(258.46 283.00) rotate(-90) skewX(-6)" x="-0.36" y="0" textLength="14.25" lengthAdjust="spacingAndGlyphs">860</text><text transform="translate(289.86 235.00) rotate(-90) skewX(-6)" x="-0.36" y="0" textLength="13.20" lengthAdjust="spacingAndGlyphs">160</text><text transform="translate(297.06 250.00) rotate(-90) skewX(-6)" x="-0.36" y="0" textLength="14.25" lengthAdjust="spacingAndGlyphs">900</text><text transform="translate(297.66 351.80) rotate(-90) skewX(-6)" x="-0.36" y="0" textLength="24.60" lengthAdjust="spacingAndGlyphs">3 760</text><text transform="translate(317.06 316.40) rotate(-90) skewX(-6)" x="-0.36" y="0" textLength="24.60" lengthAdjust="spacingAndGlyphs">4 820</text><text transform="translate(390.76 138.20) rotate(-90) skewX(-6)" x="-0.36" y="0" textLength="22.25" lengthAdjust="spacingAndGlyphs">1 150</text><text transform="translate(390.76 165.50) rotate(-90) skewX(-6)" x="-0.36" y="0" textLength="14.25" lengthAdjust="spacingAndGlyphs">800</text><text transform="translate(390.76 197.30) rotate(-90) skewX(-6)" x="-0.36" y="0" textLength="22.25" lengthAdjust="spacingAndGlyphs">1 070</text><text transform="translate(428.96 235.50) rotate(-90) skewX(-6)" x="-0.36" y="0" textLength="13.20" lengthAdjust="spacingAndGlyphs">150</text><text transform="translate(439.86 251.00) rotate(-90) skewX(-6)" x="-0.36" y="0" textLength="22.25" lengthAdjust="spacingAndGlyphs">1 000</text><text transform="translate(439.86 284.00) rotate(-90) skewX(-6)" x="-0.36" y="0" textLength="14.25" lengthAdjust="spacingAndGlyphs">770</text><text transform="translate(477.96 142.70) rotate(-90) skewX(-6)" x="-0.36" y="0" textLength="22.25" lengthAdjust="spacingAndGlyphs">1 870</text><text transform="translate(477.96 201.00) rotate(-90) skewX(-6)" x="-0.36" y="0" textLength="22.25" lengthAdjust="spacingAndGlyphs">1 000</text><text transform="translate(483.96 262.30) rotate(-90) skewX(-6)" x="-0.36" y="0" textLength="22.25" lengthAdjust="spacingAndGlyphs">1 920</text><text transform="translate(577.06 151.00) rotate(-90) skewX(-6)" x="-0.36" y="0" textLength="24.60" lengthAdjust="spacingAndGlyphs">3 440</text><text transform="translate(577.26 211.30) rotate(-90) skewX(-6)" x="-0.36" y="0" textLength="14.25" lengthAdjust="spacingAndGlyphs">240</text><text transform="translate(577.26 252.50) rotate(-90) skewX(-6)" x="-0.36" y="0" textLength="22.25" lengthAdjust="spacingAndGlyphs">1 000</text><text transform="translate(577.46 288.60) rotate(-90) skewX(-6)" x="-0.36" y="0" textLength="14.25" lengthAdjust="spacingAndGlyphs">860</text><text transform="translate(577.56 320.50) rotate(-90) skewX(-6)" x="-0.36" y="0" textLength="14.25" lengthAdjust="spacingAndGlyphs">240</text><text transform="translate(772.46 202.50) rotate(-90) skewX(-6)" x="-0.36" y="0" textLength="24.60" lengthAdjust="spacingAndGlyphs">5 800</text></g>
<g font-family="Liberation Sans, sans-serif" font-style="italic" fill="#111"><circle cx="55.8" cy="104.0" r="11.0" fill="#fff" stroke="#111" stroke-width="1.8"/><text x="55.8" y="108.20" text-anchor="middle" font-size="12.5">5</text><circle cx="55.8" cy="203.1" r="11.0" fill="#fff" stroke="#111" stroke-width="1.8"/><text x="55.8" y="207.30" text-anchor="middle" font-size="12.5">4</text><circle cx="55.8" cy="232.0" r="11.0" fill="#fff" stroke="#111" stroke-width="1.8"/><text x="55.8" y="236.20" text-anchor="middle" font-size="12.5">3</text><circle cx="55.8" cy="302.0" r="11.0" fill="#fff" stroke="#111" stroke-width="1.8"/><text x="55.8" y="306.20" text-anchor="middle" font-size="12.5">2</text><circle cx="55.8" cy="410.5" r="11.0" fill="#fff" stroke="#111" stroke-width="1.8"/><text x="55.8" y="414.70" text-anchor="middle" font-size="12.5">1</text><circle cx="163.75" cy="525.9" r="11.0" fill="#fff" stroke="#111" stroke-width="1.8"/><text x="163.75" y="530.10" text-anchor="middle" font-size="12.5">А</text><circle cx="275.6" cy="525.9" r="11.0" fill="#fff" stroke="#111" stroke-width="1.8"/><text x="275.6" y="530.10" text-anchor="middle" font-size="12.5">Б</text><circle cx="368.9" cy="525.9" r="11.0" fill="#fff" stroke="#111" stroke-width="1.8"/><text x="368.9" y="530.10" text-anchor="middle" font-size="12.5">В</text><circle cx="462.3" cy="525.9" r="11.0" fill="#fff" stroke="#111" stroke-width="1.8"/><text x="462.3" y="530.10" text-anchor="middle" font-size="12.5">Г</text><circle cx="555.8" cy="525.9" r="11.0" fill="#fff" stroke="#111" stroke-width="1.8"/><text x="555.8" y="530.10" text-anchor="middle" font-size="12.5">Д</text><circle cx="649.2" cy="525.9" r="11.0" fill="#fff" stroke="#111" stroke-width="1.8"/><text x="649.2" y="530.10" text-anchor="middle" font-size="12.5">Е</text><circle cx="742.3" cy="525.9" r="11.0" fill="#fff" stroke="#111" stroke-width="1.8"/><text x="742.3" y="530.10" text-anchor="middle" font-size="12.5">Ж</text></g>
</g>
</svg>
</body></html>
